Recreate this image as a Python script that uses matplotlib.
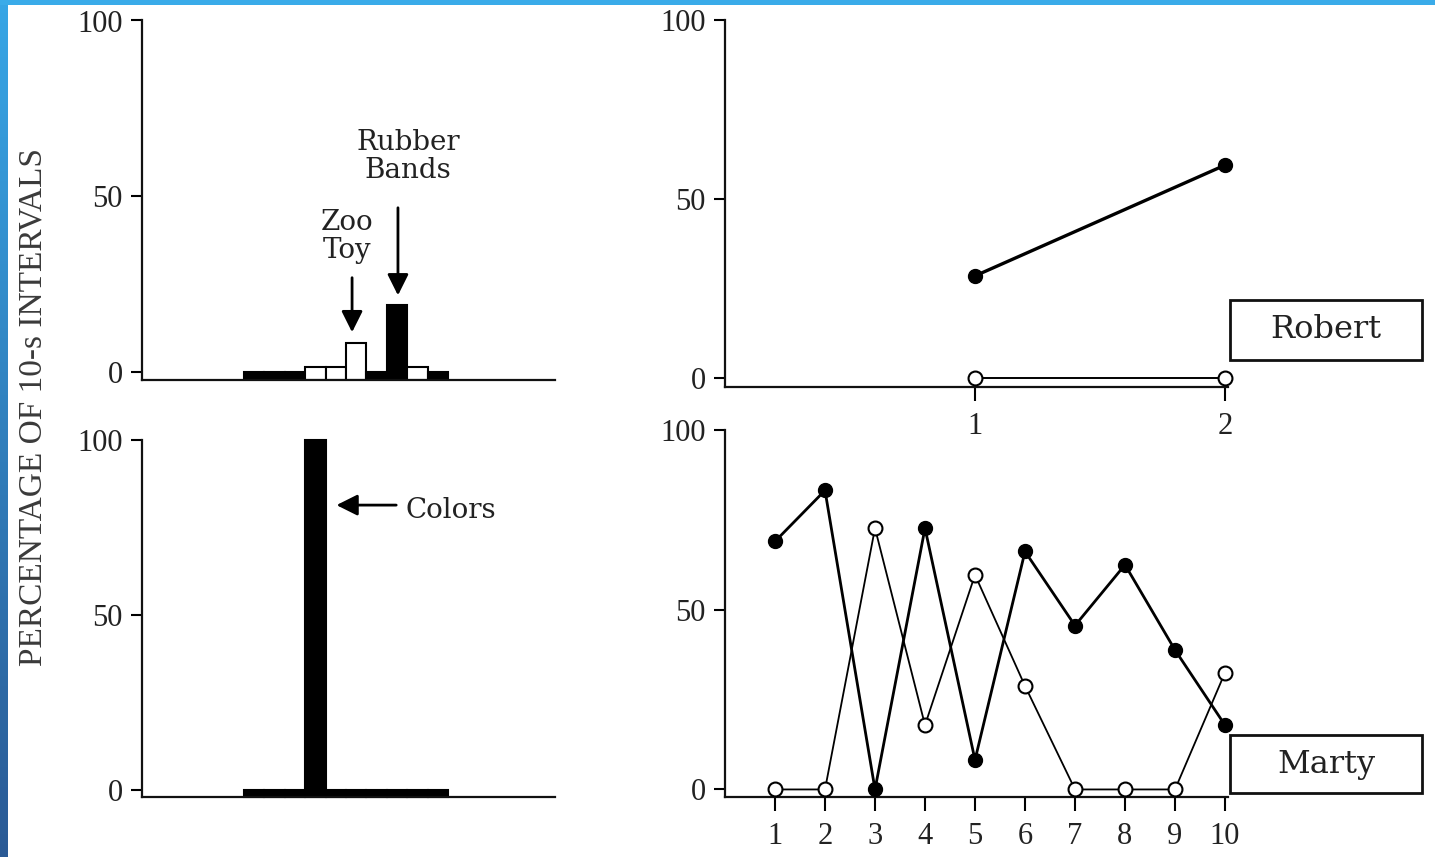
import matplotlib.pyplot as plt
from matplotlib.patches import Rectangle
from matplotlib.colors import LinearSegmentedColormap
import numpy as np

# ------------------------------------------------------------
# dados
bins = np.arange(10)

robert_bars = [0, 0, 0, 1.4, 1.4, 8.2, 0, 19, 1.4, 0]
robert_bar_fill = ['k', 'k', 'k', 'w', 'w', 'w', 'k', 'k', 'w', 'k']

marty_bars = [0, 0, 0, 100, 0, 0, 0, 0, 0, 0]
marty_bar_fill = ['k'] * 10

robert_sessions = [1, 2]
robert_filled = [28.6, 59.5]
robert_open = [0, 0]

marty_sessions = [1, 2, 3, 4, 5, 6, 7, 8, 9, 10]
marty_filled = [69, 83.2, 0, 72.7, 8.2, 66.2, 45.6, 62.5, 38.8, 17.9]
marty_open = [0, 0, 72.7, 17.9, 59.7, 28.8, 0, 0, 0, 32.5]

W, H = 1435, 857
serif = 'DejaVu Serif'
tickfont = 'Liberation Serif'


def px_box(x0, y0, x1, y1):
    return [x0 / W, 1 - y1 / H, (x1 - x0) / W, (y1 - y0) / H]


def style_axes(ax, xticks=True):
    ax.set_facecolor('none')
    for s in ['top', 'right']:
        ax.spines[s].set_visible(False)
    for s in ['left', 'bottom']:
        ax.spines[s].set_linewidth(1.6)
        ax.spines[s].set_color('#111111')
    ax.set_yticks([0, 50, 100])
    ax.tick_params(axis='y', direction='out', length=8, width=1.5, pad=6,
                   labelsize=22, labelcolor='#222222')
    if xticks:
        ax.tick_params(axis='x', direction='out', length=10, width=1.5, pad=8,
                       labelsize=22, labelcolor='#222222')
    else:
        ax.set_xticks([])
    for lab in ax.get_xticklabels() + ax.get_yticklabels():
        lab.set_family(tickfont)


fig = plt.figure(figsize=(W / 100, H / 100), dpi=100)

# ------------------------------------------------------------
# painel superior esquerdo (Robert, barras)
ax1 = fig.add_axes(px_box(142, 20.5, 555, 380))
ax1.set_xlim(-5.0, 15.25)
ax1.set_ylim(-2.3, 100)
bottom1 = ax1.get_ylim()[0]
ax1.bar(bins + 0.5, np.array(robert_bars) - bottom1, bottom=bottom1, width=1.0,
        color=robert_bar_fill, edgecolor='k', linewidth=1.5)
style_axes(ax1, xticks=False)

ax1.annotate('', xy=(7.55, 21), xytext=(7.55, 47.5),
             arrowprops=dict(arrowstyle='-|>', lw=2, color='k', mutation_scale=32))
ax1.text(8.05, 61.3, 'Rubber\nBands', ha='center', va='center', fontsize=20,
         family=serif, color='#222222', linespacing=1.05)
ax1.annotate('', xy=(5.3, 10.5), xytext=(5.3, 27.6),
             arrowprops=dict(arrowstyle='-|>', lw=2, color='k', mutation_scale=32))
ax1.text(5.05, 38.4, 'Zoo\nToy', ha='center', va='center', fontsize=20,
         family=serif, color='#222222', linespacing=1.05)

# ------------------------------------------------------------
# painel inferior esquerdo (Marty, barras)
ax2 = fig.add_axes(px_box(142, 440, 555, 797))
ax2.set_xlim(-5.0, 15.25)
ax2.set_ylim(-2.0, 100)
bottom2 = ax2.get_ylim()[0]
ax2.bar(bins + 0.5, np.array(marty_bars) - bottom2, bottom=bottom2, width=1.0,
        color=marty_bar_fill, edgecolor='k', linewidth=1.5, clip_on=False)
style_axes(ax2, xticks=False)

ax2.annotate('', xy=(4.4, 81.4), xytext=(7.6, 81.4),
             arrowprops=dict(arrowstyle='-|>', lw=2, color='k', mutation_scale=32))
ax2.text(7.9, 80, 'Colors', ha='left', va='center', fontsize=20,
         family=serif, color='#222222')

# ------------------------------------------------------------
# painel superior direito (Robert, sessões)
ax3 = fig.add_axes(px_box(725, 20, 1228, 387))
ax3.set_xlim(0, 2.012)
ax3.set_ylim(-2.4, 100)
ax3.plot(robert_sessions, robert_open, '-o', color='k', lw=1.4, ms=10,
         mfc='white', mec='k', mew=1.5, clip_on=False, zorder=3)
ax3.plot(robert_sessions, robert_filled, '-o', color='k', lw=2.4, ms=10,
         mfc='k', mec='k', clip_on=False, zorder=4)
ax3.set_xticks(robert_sessions)
style_axes(ax3)

# ------------------------------------------------------------
# painel inferior direito (Marty, sessões)
ax4 = fig.add_axes(px_box(725, 430, 1228, 797))
ax4.set_xlim(0, 10.06)
ax4.set_ylim(-2.1, 100)
ax4.plot(marty_sessions, marty_open, '-o', color='k', lw=1.3, ms=10,
         mfc='white', mec='k', mew=1.5, clip_on=False, zorder=3)
ax4.plot(marty_sessions, marty_filled, '-o', color='k', lw=2.0, ms=10,
         mfc='k', mec='k', clip_on=False, zorder=4)
ax4.set_xticks(marty_sessions)
style_axes(ax4)
ax3.set_zorder(5)

# caixas com nomes
for name, (x0, y0, x1, y1) in [('Robert', (1230, 300, 1422, 360)),
                               ('Marty', (1230, 735, 1422, 793))]:
    b = px_box(x0, y0, x1, y1)
    fig.patches.append(Rectangle((b[0], b[1]), b[2], b[3], transform=fig.transFigure,
                                 facecolor='white', edgecolor='#111111', lw=2))
    fig.text(b[0] + b[2] / 2, b[1] + b[3] / 2, name, ha='center', va='center',
             fontsize=23, family=serif, color='#222222')

# rótulo do eixo y comum
fig.text(33 / W, 1 - 407 / H, 'PERCENTAGE OF 10-s INTERVALS', rotation=90,
         ha='center', va='center', fontsize=24, family=tickfont, color='#3a3a3a')

# moldura azul do slide
fig.patches.append(Rectangle((0, 1 - 5 / H), 1, 5 / H, transform=fig.transFigure,
                             facecolor='#3aabe9', edgecolor='none'))
axb = fig.add_axes([0, 0, 8 / W, 1])
grad = np.linspace(0, 1, 256).reshape(-1, 1)
cmap = LinearSegmentedColormap.from_list('frame', ['#2a5a95', '#37a6e6'])
axb.imshow(grad, aspect='auto', cmap=cmap, origin='lower', extent=[0, 1, 0, 1])
axb.axis('off')

fig.savefig('out.png', dpi=100)
